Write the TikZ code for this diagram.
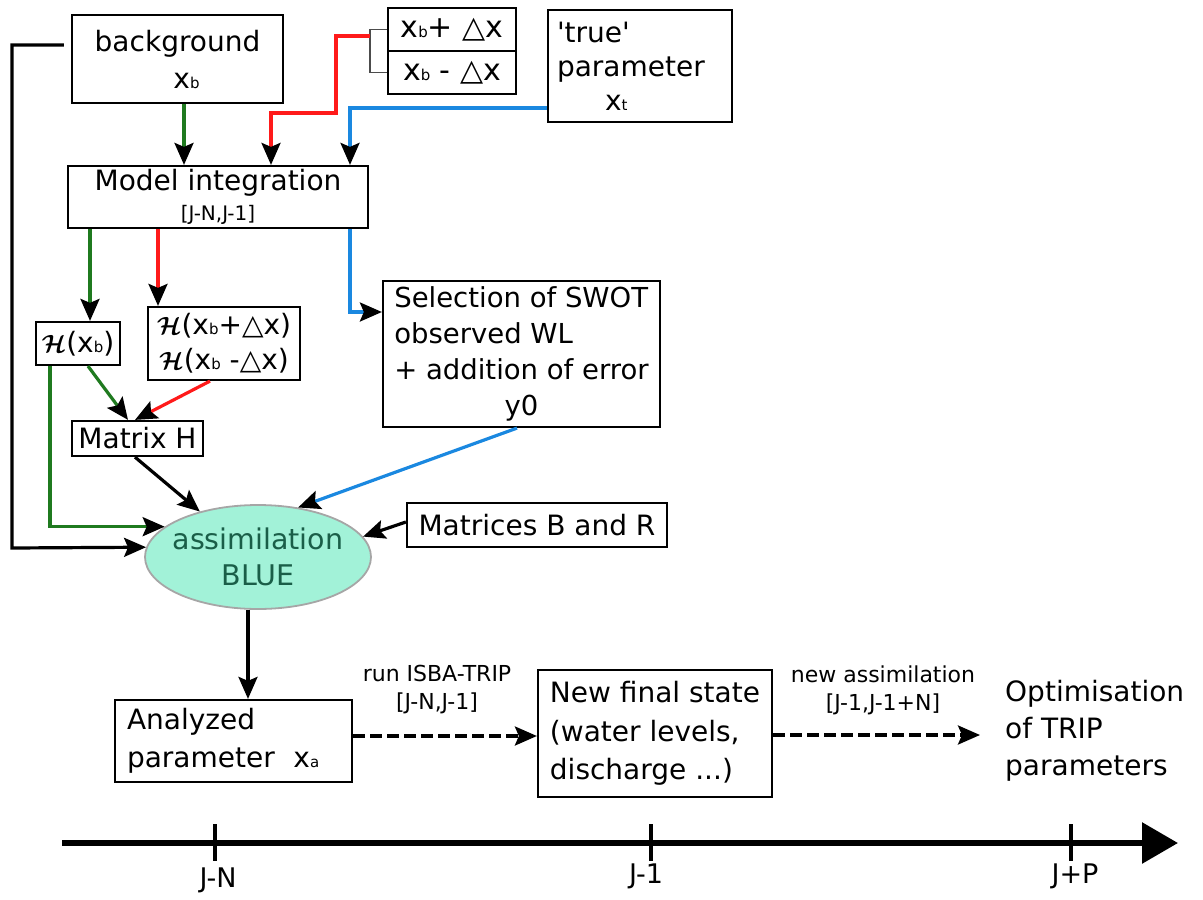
\documentclass[tikz,border=0pt]{standalone}
\usepackage{amsmath}
\usepackage{fontspec}
\setmainfont{DejaVu Sans}
\usetikzlibrary{arrows.meta,shapes.geometric}
\definecolor{cgreen}{HTML}{1F7A1F}
\definecolor{cred}{HTML}{FF1A1A}
\definecolor{cblue}{HTML}{1A88E0}
\definecolor{cmint}{HTML}{A2F2D8}
\definecolor{cteal}{HTML}{1A5E48}
\newcommand{\sbx}[1]{{\fontsize{15}{15}\selectfont #1}}
\newcommand{\Hcal}{$\boldsymbol{\mathcal{H}}$}
\newcommand{\dlt}{△}
\tikzset{
  box/.style={draw=black, line width=2.2pt, fill=white, inner sep=0pt, font=\fontsize{28}{36}\selectfont},
  ar/.style={line width=3.2pt, -{Stealth[length=22pt,width=19pt,inset=4pt,color=black,fill=black]}},
  lbl/.style={align=center, inner sep=0pt, font=\fontsize{22}{28}\selectfont},
  tlbl/.style={inner sep=0pt, font=\fontsize{27}{30}\selectfont},
  dsh/.style={dash pattern=on 12pt off 5pt}
}
\begin{document}
\begin{tikzpicture}[x=1pt,y=-1pt]
\useasboundingbox (0,0) rectangle (1203,900);

% helper coordinates
\coordinate (xg) at (184,0);
\coordinate (xr) at (271,0);
\coordinate (xb) at (350,0);
\coordinate (brk) at (370,36);
\coordinate (xg2) at (90,0);
\coordinate (xr2) at (158,0);
\coordinate (xgl) at (50,0);
\coordinate (oa) at (980,735);

% nodes
\node[box, minimum width=211pt, minimum height=88pt, align=center, font=\fontsize{28}{37}\selectfont] (bg) at (177.5,59) {background\\\hspace*{18pt}x\sbx{b}};
\node[box, minimum width=128pt, minimum height=43pt, font=\fontsize{30}{36}\selectfont] (pmU) at (452,29.5) {x\sbx{b}+ \dlt x};
\node[box, minimum width=128pt, minimum height=43pt, font=\fontsize{30}{36}\selectfont] (pmL) at (452,72.5) {x\sbx{b} - \dlt x};
\node[box, minimum width=184pt, minimum height=112pt, text width=166pt, inner xsep=9pt, align=left, font=\fontsize{28}{34}\selectfont] (tp) at (640,66) {\textquotesingle true\textquotesingle\\parameter\\\hspace*{48pt}x\sbx{t}};
\node[box, minimum width=300pt, minimum height=62pt, align=center, font=\fontsize{28}{30}\selectfont] (model) at (218,197) {Model integration\\{\fontsize{20}{22}\selectfont [J-N,J-1]}};
\node[box, minimum width=84pt, minimum height=43pt, font=\fontsize{28}{30}\selectfont] (hb) at (78,343.5) {\Hcal(x\sbx{b})};
\node[box, minimum width=152pt, minimum height=73pt, align=center, font=\fontsize{28}{35}\selectfont] (hpm) at (224,343.5) {\Hcal(x\sbx{b}+\dlt x)\\\Hcal(x\sbx{b} -\dlt x)};
\node[box, minimum width=277pt, minimum height=146pt, font=\fontsize{27.5}{36}\selectfont] (sel) at (521.5,354) {\begin{tabular}{@{}l@{}}Selection of SWOT\\observed WL\\+ addition of error\\\multicolumn{1}{@{}c@{}}{y0}\end{tabular}};
\node[box, minimum width=131pt, minimum height=35pt, font=\fontsize{28}{30}\selectfont] (mh) at (137.5,438.5) {Matrix H};
\node[box, minimum width=260pt, minimum height=44pt] (br) at (537,525) {Matrices B and R};
\node[ellipse, draw=gray!70, line width=1.8pt, fill=cmint, minimum width=226pt, minimum height=104pt, inner xsep=-14pt, inner ysep=0pt, align=center, text=cteal, font=\fontsize{28.5}{36}\selectfont] (ell) at (258,557) {assimilation\\BLUE};
\node[box, minimum height=82pt, text width=213pt, inner xsep=12pt, align=left, font=\fontsize{28}{38}\selectfont] (ana) at (233.5,741) {Analyzed\\parameter\ \ x\sbx{a}};
\node[box, minimum width=234pt, minimum height=127pt, font=\fontsize{28}{38.5}\selectfont] (new) at (655,733.5) {\begin{tabular}{@{}l@{}}New final state\\(water levels,\\discharge ...)\end{tabular}};
\node[anchor=west, align=left, inner sep=0pt, font=\fontsize{28}{37}\selectfont] (opt) at (1005,731) {Optimisation\\of TRIP\\parameters};
\node[lbl] (l1) at (437,690) {run ISBA-TRIP\\{[J-N,J-1]}};
\node[lbl] (l2) at (883,690) {new assimilation\\{[J-1,J-1+N]}};

% top connectors
\draw[ar, draw=black, shorten <=7pt] (bg.west |- 0,45) -- (12,45) -- (12,548) -- (ell.175);
\draw[ar, draw=cgreen] (bg.south -| xg) -- (model.north -| xg);
\draw[gray!60!black, line width=1.8pt] (pmU.west) -- (brk |- pmU.west) -- (brk |- pmL.west) -- (pmL.west);
\draw[ar, draw=cred] (brk) -- (336,36) -- (336,113) -- (271,113) -- (model.north -| xr);
\draw[ar, draw=cblue] (tp.west |- 0,108) -- (350,108) -- (model.north -| xb);

% model outputs
\draw[ar, draw=cgreen] (model.south -| xg2) -- (hb.north -| xg2);
\draw[ar, draw=cred] (model.south -| xr2) -- (hpm.north -| xr2);
\draw[ar, draw=cblue] (model.south -| xb) |- (sel.west |- 0,312);

% H to matrix H and assimilation
\draw[ar, draw=cgreen] (hb.south -| 88,0) -- (mh.north -| 128,0);
\draw[ar, draw=cred] (hpm.south -| 210,0) -- (mh.north -| 135,0);
\draw[ar, draw=cgreen] (hb.south -| xgl) |- (ell.162);
\draw[ar, draw=black] (mh.south -| 135,0) -- (ell.142);
\draw[ar, draw=cblue] (sel.south -| 517,0) -- (ell.51);
\draw[ar, draw=black] ([yshift=3pt]br.west) -- (ell.11);
\draw[ar, draw=black] (ell.south -| 248,0) -- (ana.north -| 248,0);

% dashed arrows
\draw[ar, dsh, draw=black] (ana.east |- 0,736) -- (new.west |- 0,736);
\draw[ar, dsh, draw=black] (new.east |- 0,735) -- (oa);

% timeline
\coordinate (t0) at (62,843);
\coordinate (t1) at (1178,843);
\draw[line width=6pt, -{Triangle[length=36pt,width=40pt]}] (t0) -- (t1);
\draw[line width=3.5pt] (215,824) -- (215,861);
\draw[line width=3.5pt] (651,824) -- (651,861);
\draw[line width=3.5pt] (1071,824) -- (1071,861);
\node[tlbl] (jn) at (218,880) {J-N};
\node[tlbl] (j1) at (646,876) {J-1};
\node[tlbl] (jp) at (1075,876) {J+P};
\end{tikzpicture}
\end{document}
